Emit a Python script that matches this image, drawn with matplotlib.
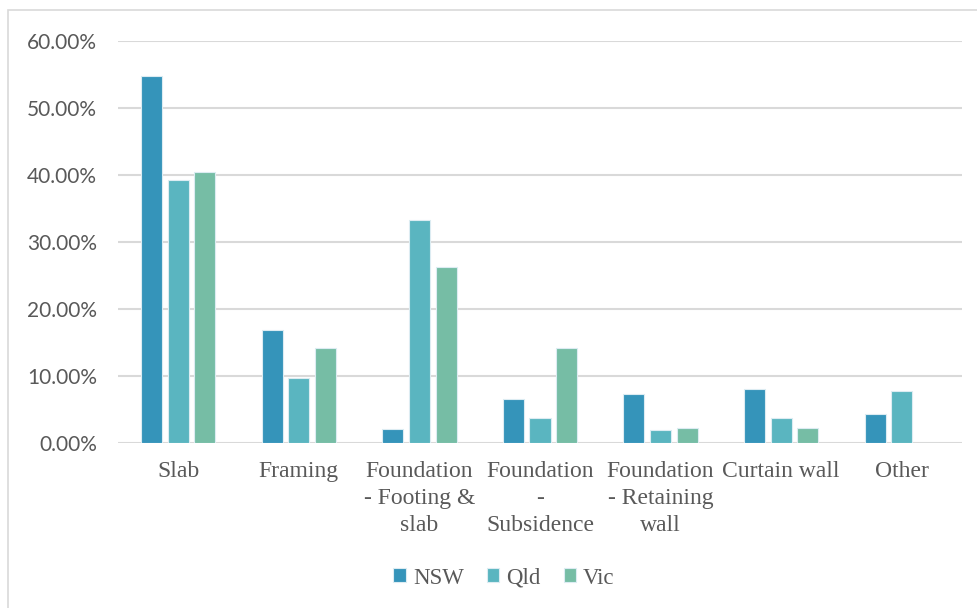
import numpy as np
import matplotlib
matplotlib.use("Agg")
import matplotlib.pyplot as plt
from matplotlib.patches import Rectangle
from matplotlib.ticker import FuncFormatter

# data
categories = ["Slab", "Framing", "Foundation\n- Footing &\nslab",
              "Foundation\n-\nSubsidence", "Foundation\n- Retaining\nwall",
              "Curtain wall", "Other"]
nsw = [54.8, 16.8, 2.1, 6.5, 7.3, 8.0, 4.3]
qld = [39.2, 9.7, 33.3, 3.8, 1.9, 3.8, 7.8]
vic = [40.4, 14.2, 26.2, 14.2, 2.3, 2.3, 0.0]
series_names = ["NSW", "Qld", "Vic"]
series_colors = ["#3594BA", "#5AB5C0", "#76BDA5"]
y_ticks = [0, 10, 20, 30, 40, 50, 60]

fig = plt.figure(figsize=(9.77, 6.08), dpi=100)
ax = fig.add_axes([118 / 977, 1 - 443 / 608, (962 - 118) / 977, (443 - 41) / 608])

# light frame round the chart
fig.patches.append(Rectangle((8 / 977, -0.01), 1.0, 1 - 10 / 608 + 0.01,
                             transform=fig.transFigure, fill=False,
                             edgecolor="#d9d9d9", linewidth=1.2))

x = np.arange(len(categories))
step = 0.221
width = 0.175
handles = []
for i, (vals, name, col) in enumerate(zip([nsw, qld, vic], series_names, series_colors)):
    b = ax.bar(x + (i - 1) * step, vals, width, color=col, label=name,
               edgecolor="#dcecf2", linewidth=0.8, zorder=3)
    handles.append(b)

ax.set_xlim(-0.5, len(categories) - 0.5)
ax.set_ylim(0, 60)
ax.set_yticks(y_ticks)
ax.yaxis.set_major_formatter(FuncFormatter(lambda v, p: f"{v:.2f}%"))
ax.grid(axis="y", color="#d9d9d9", linewidth=1.5, zorder=0)
for s in ax.spines.values():
    s.set_visible(False)
ax.tick_params(axis="y", length=0, pad=15, labelsize=15, labelcolor="#595959")
for lab in ax.get_yticklabels():
    lab.set_fontfamily("Lato")

ax.set_xticks(x)
ax.set_xticklabels(categories, fontsize=17, color="#595959",
                   family="Liberation Serif", linespacing=1.38)
ax.tick_params(axis="x", length=0, pad=13)

fig.legend(handles=handles, labels=series_names, loc="center",
           bbox_to_anchor=(504 / 977, 1 - 578 / 608), ncol=3, frameon=False,
           prop={"family": "Liberation Serif", "size": 16.5},
           handlelength=0.55, handleheight=0.55, handletextpad=0.3,
           columnspacing=1.0, labelcolor="#595959")

fig.savefig("out.png", dpi=100)
